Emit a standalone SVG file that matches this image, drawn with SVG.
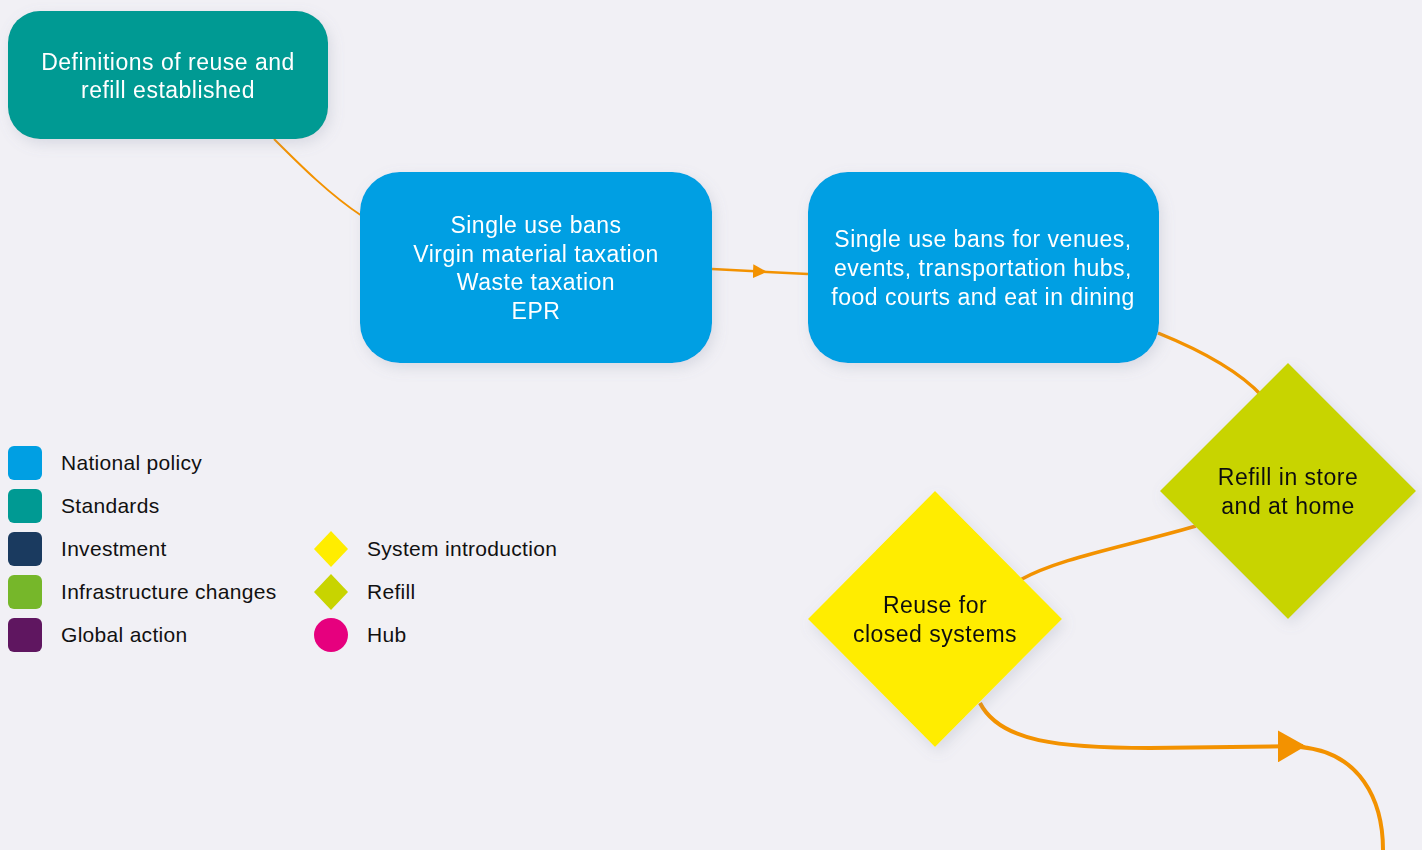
<svg xmlns="http://www.w3.org/2000/svg" width="1422" height="850" viewBox="0 0 1422 850">
<defs>
<style>
.t{font-family:"Liberation Sans",Arial,sans-serif;font-size:23px;letter-spacing:0.5px;text-anchor:middle}
.w{fill:#ffffff}
.b{fill:#111111}
.lg{font-family:"Liberation Sans",Arial,sans-serif;font-size:21px;letter-spacing:0.3px;fill:#111111}
.c{fill:none;stroke:#f39200}
</style>
<filter id="sh" x="-20%" y="-20%" width="140%" height="140%">
<feDropShadow dx="3" dy="5" stdDeviation="7" flood-color="#8088a0" flood-opacity="0.22"/>
</filter>
<marker id="ah" viewBox="0 0 10 10" refX="5" refY="5" markerWidth="14" markerHeight="14" markerUnits="userSpaceOnUse" orient="auto">
<path d="M0,0 L10,5 L0,10 z" fill="#f39200"/>
</marker>
<marker id="ah2" viewBox="0 0 10 10" refX="9" refY="5" markerWidth="28" markerHeight="32" markerUnits="userSpaceOnUse" orient="auto" preserveAspectRatio="none">
<path d="M0,0 L10,5 L0,10 z" fill="#f39200"/>
</marker>
</defs>
<rect width="1422" height="850" fill="#f1f0f5"/>
<g id="connectors">
<path class="c" stroke-width="2" d="M274,139 C300,165 330,195 362,216"/>
<path class="c" stroke-width="2.5" d="M712,269 L760,271.5" marker-end="url(#ah)"/>
<path class="c" stroke-width="2.5" d="M758,271.5 L808,274"/>
<path class="c" stroke-width="3.5" d="M1158,333 C1200,350 1240,372 1262,396"/>
<path class="c" stroke-width="3.5" d="M1196,526 C1120,548 1060,558 1020,580"/>
<path class="c" stroke-width="4" d="M980,703 C1000,742 1060,748 1150,748 L1303,746" marker-end="url(#ah2)"/>
<path class="c" stroke-width="4" d="M1300,747 C1360,752 1383,800 1383,850"/>
</g>
<g id="node-definitions" filter="url(#sh)">
<rect x="8" y="11" width="320" height="128" rx="32" fill="#009a93"/>
<text class="t w" x="168" y="70">Definitions of reuse and</text>
<text class="t w" x="168" y="98">refill established</text>
</g>
<g id="node-bans" filter="url(#sh)">
<rect x="360" y="172" width="352" height="191" rx="40" fill="#009fe3"/>
<text class="t w" x="536" y="233">Single use bans</text>
<text class="t w" x="536" y="262">Virgin material taxation</text>
<text class="t w" x="536" y="290">Waste taxation</text>
<text class="t w" x="536" y="319">EPR</text>
</g>
<g id="node-venues" filter="url(#sh)">
<rect x="808" y="172" width="351" height="191" rx="40" fill="#009fe3"/>
<text class="t w" x="983" y="247">Single use bans for venues,</text>
<text class="t w" x="983" y="276">events, transportation hubs,</text>
<text class="t w" x="983" y="305">food courts and eat in dining</text>
</g>
<g id="node-refill" filter="url(#sh)">
<polygon points="1288,363 1416,491 1288,619 1160,491" fill="#c8d400"/>
<text class="t b" x="1288" y="485">Refill in store</text>
<text class="t b" x="1288" y="514">and at home</text>
</g>
<g id="node-reuse" filter="url(#sh)">
<polygon points="935,491 1062,619 935,747 808,619" fill="#ffed00"/>
<text class="t b" x="935" y="613">Reuse for</text>
<text class="t b" x="935" y="642">closed systems</text>
</g>
<g id="legend">
<rect x="8" y="446" width="34" height="34" rx="6" fill="#009fe3"/>
<text class="lg" x="61" y="470">National policy</text>
<rect x="8" y="489" width="34" height="34" rx="6" fill="#009a93"/>
<text class="lg" x="61" y="513">Standards</text>
<rect x="8" y="532" width="34" height="34" rx="6" fill="#1a3a5f"/>
<text class="lg" x="61" y="556">Investment</text>
<rect x="8" y="575" width="34" height="34" rx="6" fill="#76b72a"/>
<text class="lg" x="61" y="599">Infrastructure changes</text>
<rect x="8" y="618" width="34" height="34" rx="6" fill="#5f1660"/>
<text class="lg" x="61" y="642">Global action</text>
<polygon points="331,531 348,549 331,567 314,549" fill="#ffed00"/>
<text class="lg" x="367" y="556">System introduction</text>
<polygon points="331,574 348,592 331,610 314,592" fill="#c8d400"/>
<text class="lg" x="367" y="599">Refill</text>
<ellipse cx="331" cy="635" rx="17" ry="17" fill="#e6007e"/>
<text class="lg" x="367" y="642">Hub</text>
</g>
</svg>
